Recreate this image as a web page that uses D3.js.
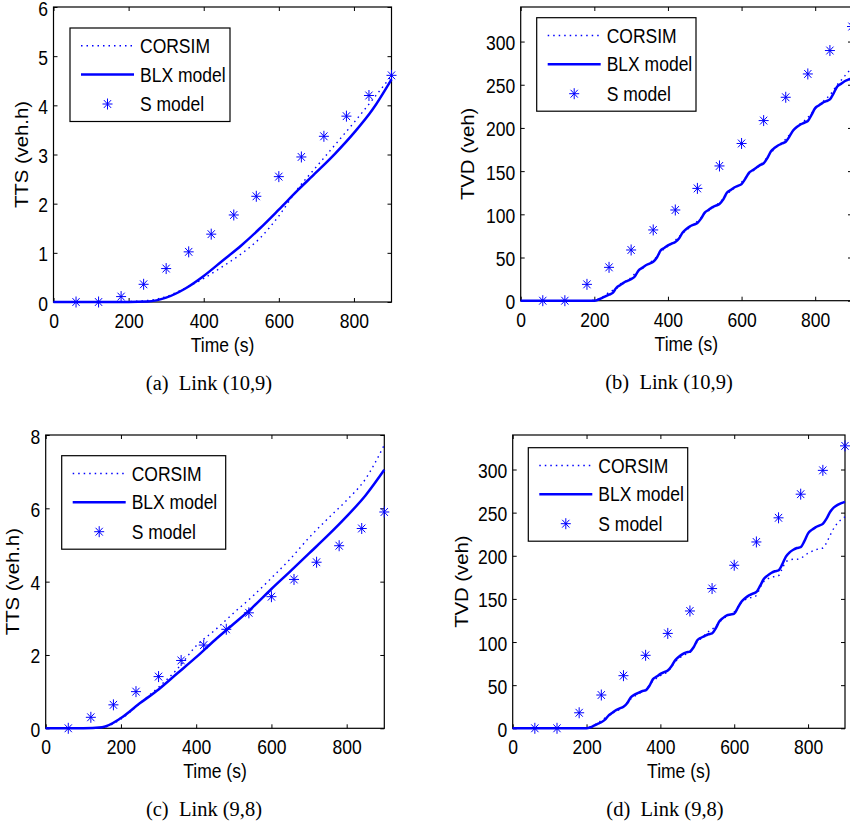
<!DOCTYPE html>
<html><head><meta charset="utf-8">
<script src="https://cdn.jsdelivr.net/npm/d3@7"></script>
<style>
body{margin:0;background:#fff}
svg text{font-family:"Liberation Sans",Arial,Helvetica,sans-serif;fill:#000}
</style>
</head><body>
<svg id="chart" width="850" height="825"></svg>
<script>
// ---------------- data ----------------
const xTickVals = [0, 200, 400, 600, 800];
const yTicksTTSa = [0, 1, 2, 3, 4, 5, 6];
const yTicksTTSc = [0, 2, 4, 6, 8];
const yTicksTVD = [0, 50, 100, 150, 200, 250, 300];
const legendLabels = ["CORSIM", "BLX model", "S model"];
const captions = ["(a)\u2002Link (10,9)", "(b)\u2002Link (10,9)", "(c)\u2002Link (9,8)", "(d)\u2002Link (9,8)"];
const yTitles = ["TTS (veh.h)", "TVD (veh)", "TTS (veh.h)", "TVD (veh)"];
const xTitle = "Time (s)";

// S model samples (every 60 s)
const tS = [60,120,180,240,300,360,420,480,540,600,660,720,780,840,900];
const sModelA = [0,0,0.11,0.36,0.68,1.02,1.38,1.77,2.15,2.55,2.95,3.37,3.78,4.2,4.61];
const sModelB = [0,0,18.9,38.6,58.7,81.9,105,130,156,182,208.5,235.5,262.5,289.6,317.4];
const sModelC = [0,0.3,0.64,1.0,1.41,1.85,2.27,2.7,3.15,3.59,4.06,4.53,4.98,5.45,5.9];
const sModelD = [0,0,18,38.6,61,84.6,110,136,162,189,216,244,271.4,299,327.4];

// smooth TTS curves (every 50 s)
const t50 = [0,50,100,150,200,250,300,350,400,450,500,550,600,650,700,750,800,850,900];
const blxA    = [0,0,0,0,0,0.01,0.09,0.27,0.53,0.84,1.15,1.5,1.88,2.27,2.64,3.02,3.44,3.92,4.53];
const corsimA = [0,0,0,0,0.01,0.03,0.11,0.28,0.48,0.72,0.98,1.3,1.75,2.3,2.75,3.2,3.65,4.12,4.6];
const blxC    = [0,0,0,0.03,0.28,0.68,1.06,1.5,1.94,2.41,2.85,3.3,3.8,4.28,4.77,5.26,5.78,6.35,7.05];
const corsimC = [0,0,0,0.02,0.25,0.68,1.12,1.62,2.25,2.68,3.15,3.6,4.1,4.62,5.2,5.72,6.22,6.8,7.73];

// stepwise TVD curves: t = 0, 190, then 200..900 every 10 s
const tStep = [0, 190].concat(d3.range(200, 901, 10));
const blxB = [0, 0,
  0,1,3,5,7,9,15,18,21,23,
  25,28,35,38,41,43,45,50,58,61,
  64,66,68,72,79,83,86,88,90,95,
  102,105,108,110,112,117,125,128,131,133,
  135,141,148,151,154,157,159,165,173,177,
  180,182,184,190,197,201,204,206,208,215,
  223,226,229,231,233,240,248,251,254,256,
  257];
const corsimB = [0, 0,
  1,2,4,6,10,12,14,19,22,23,
  27,31,34,37,41,44,47,51,56,60,
  63,66,70,74,78,82,85,89,92,96,
  101,104,107,110,114,118,123,127,130,133,
  137,142,147,150,153,157,161,166,171,176,
  180,183,187,192,197,201,205,208,212,217,
  222,226,230,234,238,244,250,255,260,265,
  269];
const blxD = [0, 0,
  0,1,3,5,7,10,15,18,21,23,
  25,29,36,39,41,43,44,49,57,60,
  63,65,67,72,79,83,86,88,89,94,
  102,105,107,109,110,116,124,128,131,132,
  133,140,147,151,154,156,158,165,173,177,
  180,182,183,190,199,204,207,209,210,217,
  226,230,233,235,237,243,251,256,259,261,
  262.5];
const corsimD = [0, 0,
  1,2,4,6,9,12,15,18,20,22,
  25,30,34,37,40,42,45,50,55,58,
  61,63,66,71,77,81,84,86,88,94,
  100,104,108,112,115,118,123,127,130,132,
  135,141,146,149,151,152,154,163,170,173,
  175,176,177,185,193,195,196,196,197,200,
  203,205,207,208,209,215,224,232,238,242,
  245];

// ---------------- drawing ----------------
const S = 1.16;           // vertical stretch of the embedded figure text
const FS = 17.5;
const BLUE = "#0000ff";
const svg = d3.select("#chart");

const panels = [
  {l:53.5, r:391.5, t:7, b:302, ymax:6, yTicks:yTicksTTSa, tl:t50, blx:blxA, cor:corsimA, s:sModelA,
   leg:{x:70, y:28, w:160}, ylx:21.7, capX:209, capY:389.5, curve:d3.curveMonotoneX},
  {l:520.7, r:852, t:7, b:300.7, ymax:340, yTicks:yTicksTVD, tl:tStep, blx:blxB, cor:corsimB, s:sModelB,
   leg:{x:536.7, y:17.7, w:159.3}, ylx:468, capX:669, capY:388.5, curve:d3.curveMonotoneX},
  {l:45.7, r:384.3, t:435, b:728.3, ymax:8, yTicks:yTicksTTSc, tl:t50, blx:blxC, cor:corsimC, s:sModelC,
   leg:{x:61.7, y:455.7, w:164}, ylx:13.3, capX:204, capY:816, curve:d3.curveMonotoneX},
  {l:512.7, r:845, t:435, b:728.3, ymax:340, yTicks:yTicksTVD, tl:tStep, blx:blxD, cor:corsimD, s:sModelD,
   leg:{x:528.3, y:447.7, w:159.4}, ylx:461.7, capX:665, capY:816, curve:d3.curveMonotoneX}
];

const starPath = "M-5,0H5M0,-5.5V5.5M-3.6,-3.9L3.6,3.9M-3.6,3.9L3.6,-3.9";

function stext(parent, x, y, str, anchor, rot) {
  return parent.append("text")
    .attr("text-anchor", anchor)
    .attr("font-size", FS)
    .attr("dy", "0.35em")
    .attr("transform", rot ? `translate(${x},${y}) rotate(-90) scale(${S},1)` : `translate(${x},${y}) scale(1,${S})`)
    .text(str);
}

function styleAxis(ax) {
  ax.select(".domain").remove();
  ax.attr("font-size", FS).attr("font-family", '"Liberation Sans",Arial,sans-serif');
  ax.selectAll(".tick line").attr("stroke", "#000").attr("stroke-width", 1);
}

panels.forEach((P, i) => {
  const x = d3.scaleLinear().domain([0, 900]).range([P.l, P.r]);
  const y = d3.scaleLinear().domain([0, P.ymax]).range([P.b, P.t]);
  const g = svg.append("g");

  // box
  g.append("rect").attr("x", P.l).attr("y", P.t).attr("width", P.r - P.l).attr("height", P.b - P.t)
    .attr("fill", "none").attr("stroke", "#000").attr("stroke-width", 1.2);

  // axes (ticks inside on all four sides)
  const axB = g.append("g").attr("transform", `translate(0,${P.b})`)
    .call(d3.axisBottom(x).tickValues(xTickVals).tickSize(-4).tickFormat(d3.format("d")));
  styleAxis(axB);
  axB.selectAll(".tick text").attr("y", 0).attr("dy", "0.35em").attr("fill", "#000")
    .attr("transform", `translate(0,19) scale(1,${S})`);

  const axT = g.append("g").attr("transform", `translate(0,${P.t})`)
    .call(d3.axisTop(x).tickValues(xTickVals).tickSize(-4).tickFormat(""));
  styleAxis(axT);

  const axL = g.append("g").attr("transform", `translate(${P.l},0)`)
    .call(d3.axisLeft(y).tickValues(P.yTicks).tickSize(-4).tickFormat(d3.format("d")));
  styleAxis(axL);
  axL.selectAll(".tick text").attr("x", 0).attr("dy", "0.35em").attr("fill", "#000")
    .attr("transform", `translate(-5.5,0.9) scale(1,${S})`);

  const axR = g.append("g").attr("transform", `translate(${P.r},0)`)
    .call(d3.axisRight(y).tickValues(P.yTicks).tickSize(-4).tickFormat(""));
  styleAxis(axR);

  // data
  const line = d3.line().x((d, k) => x(P.tl[k])).y(d => y(d)).curve(P.curve);
  g.append("path").datum(P.cor).attr("d", line).attr("fill", "none")
    .attr("stroke", BLUE).attr("stroke-width", 1.4).attr("stroke-dasharray", "1.5,4");
  g.append("path").datum(P.blx).attr("d", line).attr("fill", "none")
    .attr("stroke", BLUE).attr("stroke-width", 2.5).attr("stroke-linejoin", "round");
  g.selectAll("path.star").data(P.s).enter().append("path").attr("class", "star")
    .attr("d", starPath).attr("transform", (d, k) => `translate(${x(tS[k])},${y(d)})`)
    .attr("fill", "none").attr("stroke", BLUE).attr("stroke-width", 1);

  // legend
  const L = P.leg;
  const lg = g.append("g").attr("transform", `translate(${L.x},${L.y})`);
  lg.append("rect").attr("width", L.w).attr("height", 93.5).attr("fill", "#fff")
    .attr("stroke", "#000").attr("stroke-width", 1.2);
  const rows = [17.8, 46.5, 76];
  lg.append("line").attr("x1", 11).attr("x2", 64).attr("y1", rows[0]).attr("y2", rows[0])
    .attr("stroke", BLUE).attr("stroke-width", 1.4).attr("stroke-dasharray", "1.5,4");
  lg.append("line").attr("x1", 11).attr("x2", 64).attr("y1", rows[1]).attr("y2", rows[1])
    .attr("stroke", BLUE).attr("stroke-width", 2.5);
  lg.append("path").attr("d", starPath).attr("transform", `translate(37.5,${rows[2]})`)
    .attr("fill", "none").attr("stroke", BLUE).attr("stroke-width", 1);
  legendLabels.forEach((lab, k) => stext(lg, 70, rows[k], lab, "start", false));

  // titles
  stext(g, (P.l + P.r) / 2, P.b + 43, xTitle, "middle", false);
  stext(g, P.ylx, (P.t + P.b) / 2, yTitles[i], "middle", true);

  // caption
  svg.append("text").attr("x", P.capX).attr("y", P.capY).attr("text-anchor", "middle")
    .attr("font-size", 20.5).style("font-family", '"Liberation Serif","Times New Roman",serif')
    .text(captions[i]);
});
</script>
</body></html>
